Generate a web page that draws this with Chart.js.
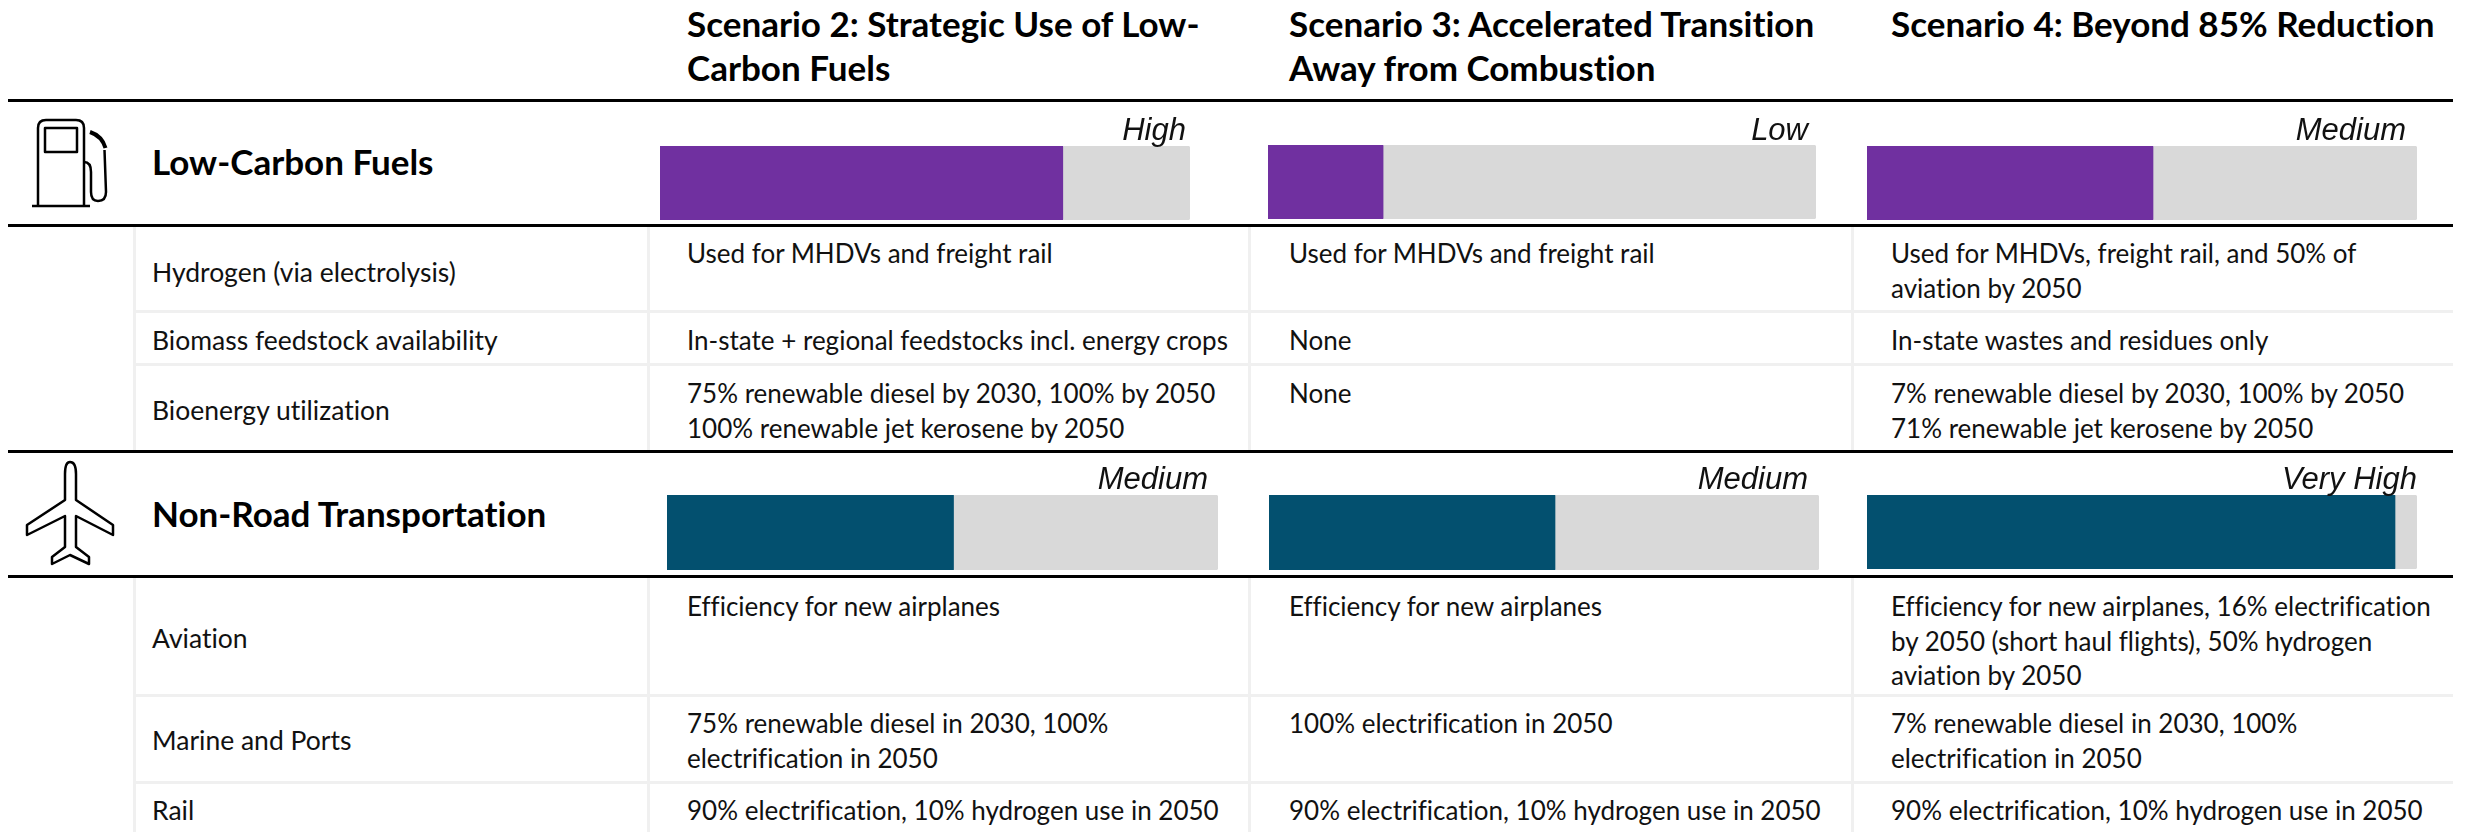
<!DOCTYPE html>
<html>
<head>
<meta charset="utf-8">
<title>Scenario comparison</title>
<script src="https://cdn.jsdelivr.net/npm/chart.js@4"></script>
<style>
    html, body { margin: 0; padding: 0; background: #fff; }
    #page { position: relative; width: 2473px; height: 832px; overflow: hidden; font-family: Lato, "Open Sans", sans-serif; color: #111; font-variant-ligatures: none; }
    .bar-box { position: absolute; }
    .rule { position: absolute; background: #000; }
    .grid { position: absolute; background: #f0f0f0; }
    .txt { position: absolute; white-space: nowrap; height: 40px; line-height: 40px; }
    .head { font-weight: 700; font-size: 35px; color: #000; }
    .sector { font-weight: 700; font-size: 35px; color: #000; }
    .name { font-size: 26.5px; }
    .body { font-size: 26px; }
    .level { font-family: "Liberation Sans", Arial, sans-serif; font-style: italic; font-size: 31px; z-index: 5; }
    svg { position: absolute; left: 0; top: 0; z-index: 4; }
</style>
</head>
<body>
<div id="page">
    <svg width="200" height="832" fill="none" stroke="#000" stroke-width="2.5" stroke-linejoin="round">
        <!-- fuel pump -->
        <path d="M38 206V128Q38 120 46 120H76Q84 120 84 128V206" />
        <rect x="45" y="128" width="32" height="24" />
        <path d="M32 206H90" />
        <path d="M84 162Q91 162 91 172V192Q91 201 98 201Q106 201 106 192L104.500 150" />
        <path d="M90 132Q102 136 105.500 148" stroke-width="4" />
        <!-- airplane -->
        <path d="M65 500V474Q65 462 70 462Q76 462 76 474V500L113 525V535L76 516V547L89 557V564L70 555L52 564V557L65 547V516L27 535V525Z" />
    </svg>
</div>
<script>
    // Table text
    const scenarioTitles = [
        ['Scenario 2: Strategic Use of Low-', 'Carbon Fuels'],
        ['Scenario 3: Accelerated Transition', 'Away from Combustion'],
        ['Scenario 4: Beyond 85% Reduction']
    ];
    const sectorNames = ['Low-Carbon Fuels', 'Non-Road Transportation'];
    const rowNames = ['Hydrogen (via electrolysis)', 'Biomass feedstock availability', 'Bioenergy utilization', 'Aviation', 'Marine and Ports', 'Rail'];

    const scenario2Text = [
        ['Used for MHDVs and freight rail'],
        ['In-state + regional feedstocks incl. energy crops'],
        ['75% renewable diesel by 2030, 100% by 2050', '100% renewable jet kerosene by 2050'],
        ['Efficiency for new airplanes'],
        ['75% renewable diesel in 2030, 100%', 'electrification in 2050'],
        ['90% electrification, 10% hydrogen use in 2050']
    ];
    const scenario3Text = [
        ['Used for MHDVs and freight rail'],
        ['None'],
        ['None'],
        ['Efficiency for new airplanes'],
        ['100% electrification in 2050'],
        ['90% electrification, 10% hydrogen use in 2050']
    ];
    const scenario4Text = [
        ['Used for MHDVs, freight rail, and 50% of', 'aviation by 2050'],
        ['In-state wastes and residues only'],
        ['7% renewable diesel by 2030, 100% by 2050', '71% renewable jet kerosene by 2050'],
        ['Efficiency for new airplanes, 16% electrification', 'by 2050 (short haul flights), 50% hydrogen', 'aviation by 2050'],
        ['7% renewable diesel in 2030, 100%', 'electrification in 2050'],
        ['90% electrification, 10% hydrogen use in 2050']
    ];

    // Bar values (percent of the grey track)
    const lowCarbonValues = [76, 21, 52];
    const nonRoadValues = [52, 52, 96];
    const lowCarbonLevels = ['High', 'Low', 'Medium'];
    const nonRoadLevels = ['Medium', 'Medium', 'Very High'];

    // Layout
    const page = document.getElementById('page');
    const columnX = [687, 1289, 1891];
    const rowLabelX = 152;
    const rowY = [272, 340, 410, 638, 740, 810];
    const cellFirstLineY = [253, 340, 393, 606, 723, 810];
    const lineGap = 34.5;

    function addText(cls, text, x, centerY) {
        const el = document.createElement('div');
        el.className = 'txt ' + cls;
        el.textContent = text;
        el.style.left = x + 'px';
        el.style.top = (centerY - 20) + 'px';
        page.appendChild(el);
        return el;
    }

    function addLevel(text, rightEdge, centerY) {
        const el = addText('level', text, 0, centerY);
        el.style.left = 'auto';
        el.style.right = (2473 - rightEdge) + 'px';
    }

    function addBox(cls, x, y, w, h) {
        const el = document.createElement('div');
        el.className = cls;
        el.style.left = x + 'px';
        el.style.top = y + 'px';
        el.style.width = w + 'px';
        el.style.height = h + 'px';
        page.appendChild(el);
    }

    // Each bar is a small stacked horizontal chart on a 0-100 axis
    function addBar(value, color, x, y, w, h) {
        const box = document.createElement('div');
        box.className = 'bar-box';
        box.style.left = x + 'px';
        box.style.top = y + 'px';
        box.style.width = w + 'px';
        box.style.height = h + 'px';
        const canvas = document.createElement('canvas');
        box.appendChild(canvas);
        page.appendChild(box);

        new Chart(canvas, {
            type: 'bar',
            data: {
                labels: [''],
                datasets: [
                    { data: [value], backgroundColor: color, borderRadius: 3, borderSkipped: false },
                    { data: [100 - value], backgroundColor: '#d9d9d9', borderRadius: 3, borderSkipped: false }
                ]
            },
            options: {
                indexAxis: 'y',
                responsive: true,
                maintainAspectRatio: false,
                animation: false,
                barPercentage: 1,
                categoryPercentage: 1,
                layout: { padding: 0 },
                plugins: { legend: { display: false }, tooltip: { enabled: false } },
                scales: {
                    x: { stacked: true, min: 0, max: 100, display: false },
                    y: { stacked: true, display: false }
                }
            }
        });
    }

    // Light grid first, black rules on top
    [133, 647, 1248, 1851].forEach(function (x) {
        addBox('grid', x, 226, 3, 224);
        addBox('grid', x, 578, 3, 254);
    });
    [310, 363, 694, 781].forEach(function (y) {
        addBox('grid', 133, y, 2320, 3);
    });
    [100, 225, 451, 576].forEach(function (y) {
        addBox('rule', 8, y - 1, 2445, 3);
    });

    // Headers
    scenarioTitles.forEach(function (lines, c) {
        lines.forEach(function (line, i) {
            addText('head', line, columnX[c], 23 + i * 44);
        });
    });
    addText('sector', sectorNames[0], rowLabelX, 161);
    addText('sector', sectorNames[1], rowLabelX, 513);

    // Rows
    rowNames.forEach(function (name, r) {
        addText('name', name, rowLabelX, rowY[r]);
    });
    [scenario2Text, scenario3Text, scenario4Text].forEach(function (col, c) {
        col.forEach(function (lines, r) {
            lines.forEach(function (line, i) {
                addText('body', line, columnX[c], cellFirstLineY[r] + i * lineGap);
            });
        });
    });

    // Bars
    const purple = '#7030a0';
    const teal = '#03506f';
    addBar(lowCarbonValues[0], purple, 660, 146, 530, 74);
    addBar(lowCarbonValues[1], purple, 1268, 145, 548, 74);
    addBar(lowCarbonValues[2], purple, 1867, 146, 550, 74);
    addBar(nonRoadValues[0], teal, 667, 495, 551, 75);
    addBar(nonRoadValues[1], teal, 1269, 495, 550, 75);
    addBar(nonRoadValues[2], teal, 1867, 495, 550, 74);

    // Level labels above the bars
    addLevel(lowCarbonLevels[0], 1186, 130);
    addLevel(lowCarbonLevels[1], 1808, 130);
    addLevel(lowCarbonLevels[2], 2406, 130);
    addLevel(nonRoadLevels[0], 1208, 479);
    addLevel(nonRoadLevels[1], 1808, 479);
    addLevel(nonRoadLevels[2], 2417, 479);
</script>
</body>
</html>
